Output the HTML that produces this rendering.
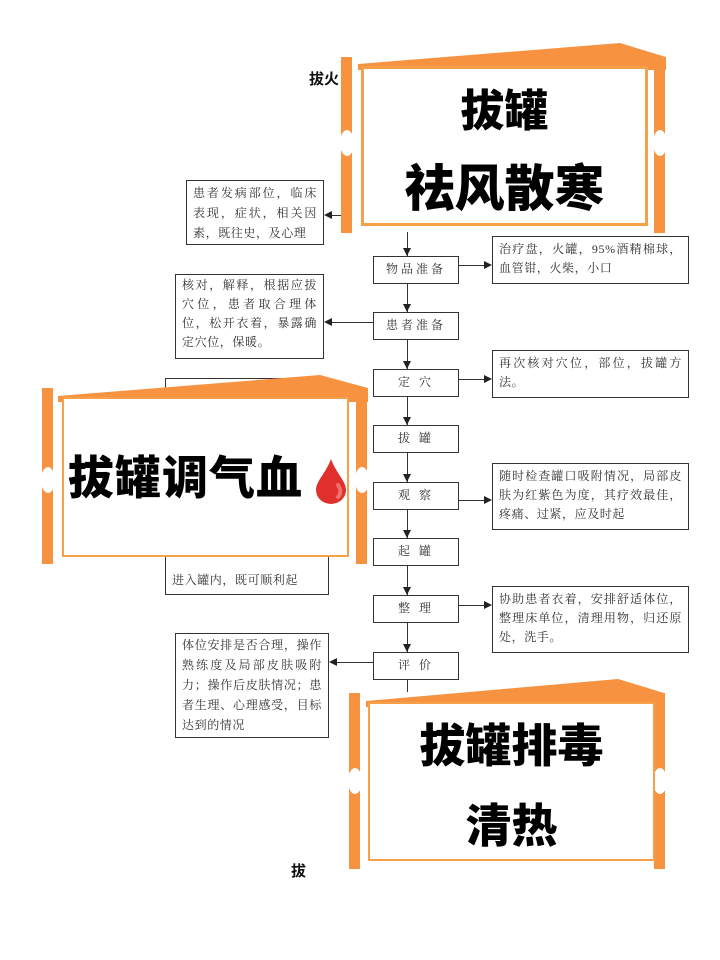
<!DOCTYPE html>
<html><head><meta charset="utf-8"><style>
*{margin:0;padding:0;box-sizing:border-box}
body{width:720px;height:960px;background:#fff;position:relative;overflow:hidden;font-family:"Liberation Serif","Noto Serif CJK SC",serif}
.a{position:absolute}
.bx{position:absolute;border:1.5px solid #333;background:#fff;font-size:12px;color:#333;line-height:19px;padding:3px 6px;letter-spacing:0.6px;text-align:justify}
.c{position:absolute;left:373px;width:86px;height:28px;border:1.5px solid #333;background:#fff;font-size:12px;color:#333;text-align:center;line-height:25px;letter-spacing:3px}
.hl{position:absolute;height:1.3px;background:#333}
.vl{position:absolute;width:1.3px;background:#333}
.al{position:absolute;width:0;height:0;border-top:4px solid transparent;border-bottom:4px solid transparent;border-right:8px solid #222}
.ar{position:absolute;width:0;height:0;border-top:4px solid transparent;border-bottom:4px solid transparent;border-left:8px solid #222}
.ad{position:absolute;width:0;height:0;border-left:4px solid transparent;border-right:4px solid transparent;border-top:8px solid #222}
.bar{position:absolute;background:#f79240;width:11px}
.notch{position:absolute;width:14px;height:26px;background:#fff;border-radius:50%}
.inner{position:absolute;border:2px solid #f7a04a;background:#fff;text-align:center;font-family:"Liberation Sans","Noto Sans CJK SC",sans-serif;font-weight:900;color:#000}
.t{font-family:"Liberation Sans","Noto Sans CJK SC",sans-serif;font-weight:700;color:#111}
</style></head><body>

<div class="a t" style="left:309px;top:68px;font-size:15px">拔火</div>
<div class="a t" style="left:291px;top:860px;font-size:15px">拔</div>

<div class="vl" style="left:407px;top:232px;height:460px"></div>

<div class="c" style="top:256px">物品准备</div>
<div class="c" style="top:312px">患者准备</div>
<div class="c" style="top:369px">定 穴</div>
<div class="c" style="top:425px">拔 罐</div>
<div class="c" style="top:482px">观 察</div>
<div class="c" style="top:538px">起 罐</div>
<div class="c" style="top:595px">整 理</div>
<div class="c" style="top:652px">评 价</div>
<div class="ad" style="left:403px;top:248px"></div>
<div class="ad" style="left:403px;top:304px"></div>
<div class="ad" style="left:403px;top:361px"></div>
<div class="ad" style="left:403px;top:417px"></div>
<div class="ad" style="left:403px;top:474px"></div>
<div class="ad" style="left:403px;top:530px"></div>
<div class="ad" style="left:403px;top:587px"></div>
<div class="ad" style="left:403px;top:644px"></div>

<div class="bx" style="left:186px;top:180px;width:138px;height:65px;padding-top:2px;line-height:20px">患者发病部位，临床表现，症状，相关因素，既往史，及心理</div>
<div class="hl" style="left:330px;top:215px;width:14px"></div><div class="al" style="left:324px;top:211px"></div>
<div class="bx" style="left:175px;top:274px;width:149px;height:85px;padding-top:1px">核对，解释，根据应拔穴位，患者取合理体位，松开衣着，暴露确定穴位，保暖。</div>
<div class="hl" style="left:330px;top:322px;width:43px"></div><div class="al" style="left:324px;top:318px"></div>
<div class="bx" style="left:165px;top:378px;width:164px;height:217px;padding-top:194px;line-height:14px">进入罐内，既可顺利起</div>
<div class="bx" style="left:175px;top:633px;width:154px;height:105px;padding-top:1px;line-height:20px">体位安排是否合理，操作熟练度及局部皮肤吸附力；操作后皮肤情况；患者生理、心理感受，目标达到的情况</div>
<div class="hl" style="left:335px;top:662px;width:38px"></div><div class="al" style="left:329px;top:658px"></div>

<div class="bx" style="left:492px;top:236px;width:197px;height:48px">治疗盘，火罐，95%酒精棉球，血管钳，火柴，小口</div>
<div class="hl" style="left:459px;top:265px;width:25px"></div><div class="ar" style="left:484px;top:261px"></div>
<div class="bx" style="left:492px;top:350px;width:197px;height:48px">再次核对穴位，部位，拔罐方法。</div>
<div class="hl" style="left:459px;top:379px;width:25px"></div><div class="ar" style="left:484px;top:375px"></div>
<div class="bx" style="left:492px;top:463px;width:197px;height:67px">随时检查罐口吸附情况，局部皮肤为红紫色为度，其疗效最佳，疼痛、过紧，应及时起</div>
<div class="hl" style="left:459px;top:500px;width:25px"></div><div class="ar" style="left:484px;top:496px"></div>
<div class="bx" style="left:492px;top:586px;width:197px;height:67px">协助患者衣着，安排舒适体位，整理床单位，清理用物，归还原处，洗手。</div>
<div class="hl" style="left:459px;top:605px;width:25px"></div><div class="ar" style="left:484px;top:601px"></div>

<!-- card 1 -->
<svg class="a" style="left:340px;top:40px" width="330" height="30"><polygon points="18,24 280,3 326,17 326,30 18,30" fill="#f79240"/></svg>
<div class="bar" style="left:341px;top:57px;height:176px"></div>
<div class="bar" style="left:654px;top:57px;height:176px"></div>
<div class="notch" style="left:340px;top:130px"></div>
<div class="notch" style="left:653px;top:130px"></div>
<div class="inner" style="left:361px;top:66px;width:287px;height:160px;border-width:3px">
<div style="font-size:44px;line-height:50px;margin-top:18px">拔罐</div>
<div style="font-size:50px;line-height:56px;margin-top:24px">祛风散寒</div></div>

<!-- card 2 -->
<svg class="a" style="left:40px;top:372px" width="332" height="30"><polygon points="18,24 280,3 328,16 328,30 18,30" fill="#f79240"/></svg>
<div class="bar" style="left:42px;top:388px;height:176px"></div>
<div class="bar" style="left:356px;top:388px;height:176px"></div>
<div class="notch" style="left:41px;top:467px"></div>
<div class="notch" style="left:355px;top:467px"></div>
<div class="inner" style="left:62px;top:397px;width:287px;height:160px;text-align:left">
<div style="font-size:46px;line-height:52px;margin:53px 0 0 4px;letter-spacing:1px">拔罐调气血</div>
<svg class="a" style="left:250px;top:58px" width="34" height="48"><path d="M17 2 C12 16 2 24 2 33 a15 14 0 0 0 30 0 C32 24 22 16 17 2Z" fill="#e0302e"/><path d="M24 28 c3 4 3 9 0 12" stroke="#f0706a" stroke-width="4" fill="none" stroke-linecap="round"/></svg>
</div>

<!-- card 3 -->
<svg class="a" style="left:348px;top:677px" width="320" height="30"><polygon points="18,24 270,2 316,16 316,30 18,30" fill="#f79240"/></svg>
<div class="bar" style="left:349px;top:693px;height:176px"></div>
<div class="bar" style="left:654px;top:693px;height:176px"></div>
<div class="notch" style="left:348px;top:768px"></div>
<div class="notch" style="left:653px;top:768px"></div>
<div class="inner" style="left:368px;top:702px;width:287px;height:159px">
<div style="font-size:46px;line-height:52px;margin-top:16px">拔罐排毒</div>
<div style="font-size:46px;line-height:52px;margin-top:28px">清热</div></div>

</body></html>
